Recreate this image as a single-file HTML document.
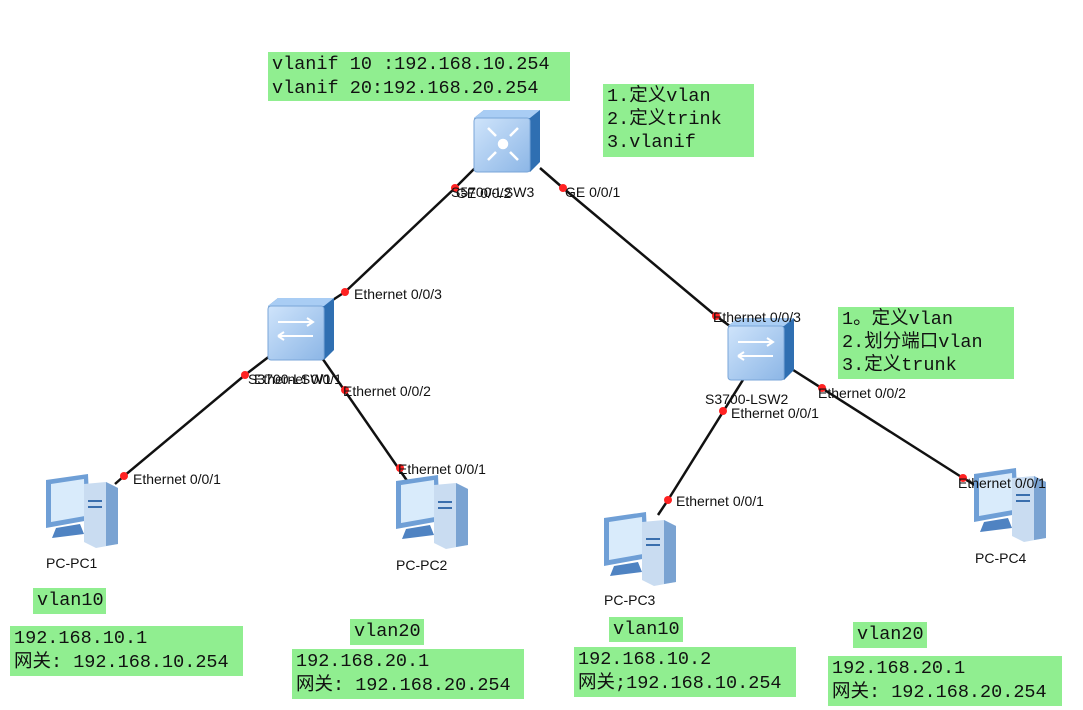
<!DOCTYPE html>
<html><head><meta charset="utf-8"><style>
body{margin:0;width:1083px;height:710px;background:#fff;overflow:hidden;position:relative}
.g{position:absolute;background:#90ee90;font-family:"Liberation Mono","Noto Sans CJK SC",monospace;font-size:18.5px;line-height:24px;color:#111;padding:0 4px;white-space:pre;box-sizing:border-box}
svg{position:absolute;left:0;top:0}
svg text{font-family:"Liberation Sans",sans-serif;font-size:14px;fill:#111}
</style></head><body>
<svg width="1083" height="710">
<defs>
<linearGradient id="fr" x1="0" y1="0" x2="1" y2="1"><stop offset="0" stop-color="#cfe4fb"/><stop offset="1" stop-color="#8cb6e6"/></linearGradient>
<g id="sw">
<path d="M0 8 L10 0 L66 0 L66 52 L56 62 Z" fill="#2f6fb2"/>
<path d="M0 8 L56 8 L66 0 L10 0 Z" fill="#a9cdf4"/>
<rect x="0" y="8" width="56" height="54" rx="3" fill="url(#fr)" stroke="#7aa6d8"/>
</g>
<g id="pc">
<path d="M6 8 L48 2 L50 48 L6 56 Z" fill="#6f9fd6"/>
<path d="M11 12 L44 7 L45 44 L11 50 Z" fill="#d9ebfb"/>
<path d="M16 56 L40 52 L44 62 L12 66 Z" fill="#4f83c2"/>
<path d="M44 12 L66 10 L78 16 L78 72 L56 76 L44 70 Z" fill="#c9dcf1"/>
<path d="M66 10 L78 16 L78 72 L66 74 Z" fill="#7aa3d2"/>
<rect x="48" y="28" width="14" height="2" fill="#3a6fae"/><rect x="48" y="34" width="14" height="2" fill="#3a6fae"/>
</g>
</defs>
<g stroke="#111" stroke-width="2.5">
<line x1="455" y1="188" x2="475" y2="168"/><line x1="455" y1="188" x2="345" y2="292"/>
<line x1="563" y1="188" x2="540" y2="168"/><line x1="563" y1="188" x2="716" y2="316"/>
<line x1="345" y1="292" x2="325" y2="305"/>
<line x1="245" y1="375" x2="124" y2="476"/><line x1="245" y1="375" x2="275" y2="352"/>
<line x1="320" y1="355" x2="410" y2="485"/>
<line x1="716" y1="316" x2="738" y2="332"/>
<line x1="746" y1="375" x2="668" y2="500"/><line x1="668" y1="500" x2="658" y2="515"/>
<line x1="790" y1="368" x2="963" y2="478"/><line x1="963" y1="478" x2="975" y2="485"/>
<line x1="124" y1="476" x2="115" y2="484"/>
</g>
<use href="#sw" x="474" y="110"/>
<g fill="#fff" stroke="#fff" stroke-width="2.5"><circle cx="503" cy="144" r="4"/><path d="M488 128 l8 8 M518 128 l-8 8 M488 160 l8 -8 M518 160 l-8 -8" fill="none"/></g>
<use href="#sw" x="268" y="298"/>
<g stroke="#fff" stroke-width="2" fill="none"><path d="M278 322 h35 m-6 -4 l6 4 l-6 4 M278 336 h35 m-35 0 l6 -4 m-6 4 l6 4"/></g>
<use href="#sw" x="728" y="318"/>
<g stroke="#fff" stroke-width="2" fill="none"><path d="M738 342 h35 m-6 -4 l6 4 l-6 4 M738 356 h35 m-35 0 l6 -4 m-6 4 l6 4"/></g>
<use href="#pc" x="40" y="472"/>
<use href="#pc" x="390" y="473"/>
<use href="#pc" x="598" y="510"/>
<use href="#pc" x="968" y="466"/>
<g fill="#f22">
<circle cx="455" cy="188" r="4"/><circle cx="563" cy="188" r="4"/><circle cx="345" cy="292" r="4"/><circle cx="716" cy="316" r="4"/>
<circle cx="245" cy="375" r="4"/><circle cx="345" cy="390" r="4"/><circle cx="124" cy="476" r="4"/><circle cx="400" cy="468" r="4"/>
<circle cx="723" cy="411" r="4"/><circle cx="668" cy="500" r="4"/><circle cx="822" cy="388" r="4"/><circle cx="963" cy="478" r="4"/>
</g>
<text x="451" y="197">S5700-LSW3</text><text x="456" y="198">GE 0/0/2</text><text x="565" y="197">GE 0/0/1</text>
<text x="354" y="299">Ethernet 0/0/3</text>
<text x="248" y="384">S3700-LSW1</text><text x="254" y="384">Ethernet 0/0/1</text>
<text x="343" y="396">Ethernet 0/0/2</text>
<text x="133" y="484">Ethernet 0/0/1</text><text x="398" y="474">Ethernet 0/0/1</text>
<text x="713" y="322">Ethernet 0/0/3</text>
<text x="705" y="404">S3700-LSW2</text><text x="731" y="418">Ethernet 0/0/1</text>
<text x="818" y="398">Ethernet 0/0/2</text>
<text x="676" y="506">Ethernet 0/0/1</text><text x="958" y="488">Ethernet 0/0/1</text>
<text x="46" y="568" font-size="15">PC-PC1</text><text x="396" y="570" font-size="15">PC-PC2</text>
<text x="604" y="605" font-size="15">PC-PC3</text><text x="975" y="563" font-size="15">PC-PC4</text>
</svg>
<div class="g" style="left:268px;top:52px;width:302px;height:49px;padding-top:1px">vlanif 10 :192.168.10.254
vlanif 20:192.168.20.254</div>
<div class="g" style="left:603px;top:84px;width:151px;height:73px;padding-top:1px;line-height:23px">1.定义vlan
2.定义trink
3.vlanif</div>
<div class="g" style="left:838px;top:307px;width:176px;height:72px;padding-top:1px;line-height:23px">1。定义vlan
2.划分端口vlan
3.定义trunk</div>
<div class="g" style="left:33px;top:588px;width:73px;height:26px;padding-top:1px">vlan10</div>
<div class="g" style="left:10px;top:626px;width:233px;height:50px;padding-top:1px">192.168.10.1
网关: 192.168.10.254</div>
<div class="g" style="left:350px;top:619px;width:74px;height:26px;padding-top:1px">vlan20</div>
<div class="g" style="left:292px;top:649px;width:232px;height:50px;padding-top:1px">192.168.20.1
网关: 192.168.20.254</div>
<div class="g" style="left:609px;top:617px;width:74px;height:25px;padding-top:1px">vlan10</div>
<div class="g" style="left:574px;top:647px;width:222px;height:50px;padding-top:1px">192.168.10.2
网关;192.168.10.254</div>
<div class="g" style="left:853px;top:622px;width:74px;height:26px;padding-top:1px">vlan20</div>
<div class="g" style="left:828px;top:656px;width:234px;height:50px;padding-top:1px">192.168.20.1
网关: 192.168.20.254</div>
</body></html>
